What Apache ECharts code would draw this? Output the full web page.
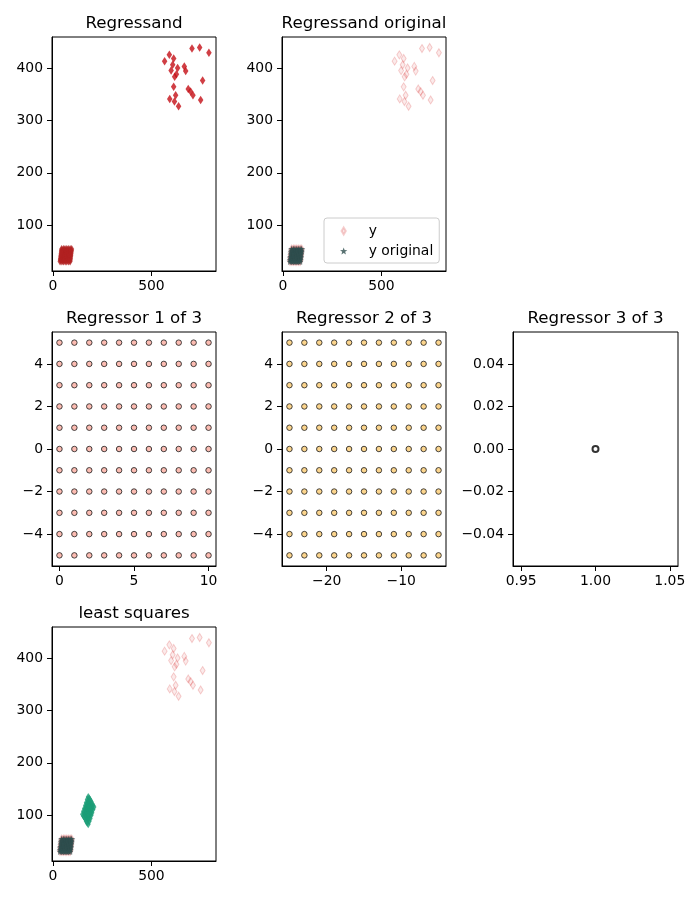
<!DOCTYPE html>
<html>
<head>
<meta charset="utf-8">
<script src="https://cdn.jsdelivr.net/npm/echarts@6/dist/echarts.min.js"></script>
<style>
  html, body { margin: 0; padding: 0; background: #fff; }
  #chart { width: 700px; height: 900px; }
</style>
</head>
<body>
<div id="chart"></div>
<script>
// regressand: scattered points up right
const outlierX = [706, 745, 792, 591, 567, 613, 608, 633, 600, 667, 674, 627, 618, 760, 613, 687, 699, 711, 623, 593, 750, 617, 638];
const outlierY = [437, 439, 429, 425, 413, 418, 406, 400, 395, 403, 394, 388, 383, 376, 364, 360, 355, 348, 348, 341, 339, 336, 327];

// the dense cluster bottom left (y original)
const clusterX = [
    44, 53, 61, 70, 78, 87, 95,
    43, 52, 60, 69, 77, 86, 94,
    42, 51, 59, 68, 76, 85, 93,
    41, 50, 58, 67, 75, 84, 92,
    40, 49, 57, 66, 74, 83, 91,
    39, 48, 56, 65, 73, 82, 90,
    38, 47, 55, 64, 72, 81, 89,
    37, 46, 54, 63, 71, 80, 88,
    36, 45, 53, 62, 70, 79, 87];
const clusterY = [
    55, 55, 55, 55, 55, 55, 55,
    52, 52, 52, 52, 52, 52, 52,
    49, 49, 49, 49, 49, 49, 49,
    46, 46, 46, 46, 46, 46, 46,
    43, 43, 43, 43, 43, 43, 43,
    40, 40, 40, 40, 40, 40, 40,
    37, 37, 37, 37, 37, 37, 37,
    34, 34, 34, 34, 34, 34, 34,
    31, 31, 31, 31, 31, 31, 31];

// least squares fit (green blob)
const fitX = [
    179, 184, 189, 194, 198, 203, 208,
    174, 179, 184, 189, 194, 198, 203,
    169, 174, 179, 184, 189, 194, 198,
    165, 169, 174, 179, 184, 189, 194,
    160, 165, 169, 174, 179, 184, 189,
    155, 160, 165, 169, 174, 179, 184,
    150, 155, 160, 165, 169, 174, 179];
const fitY = [
    135, 132, 129, 126, 122, 119, 116,
    130, 126, 123, 120, 117, 114, 111,
    124, 121, 118, 115, 111, 108, 105,
    119, 115, 112, 109, 106, 103, 100,
    113, 110, 107, 104, 100, 97, 94,
    108, 104, 101, 98, 95, 92, 89,
    102, 99, 96, 93, 89, 86, 83];

// regressor grids
const reg1X = [0, 1, 2, 3, 4, 5, 6, 7, 8, 9, 10];
const reg2X = [-25, -23, -21, -19, -17, -15, -13, -11, -9, -7, -5];
const regY = [-5, -4, -3, -2, -1, 0, 1, 2, 3, 4, 5];
const reg3Point = [1, 0];

// tick labels
const yTicks = [100, 200, 300, 400];
const xTicks = [0, 500];
const reg1XTicks = [0, 5, 10];
const reg2XTicks = [-20, -10];
const regYTicks = [-4, -2, 0, 2, 4];
const reg3XTicks = [0.95, 1.0, 1.05];
const reg3YTicks = [-0.04, -0.02, 0, 0.02, 0.04];

const titles = ['Regressand', 'Regressand original', 'Regressor 1 of 3', 'Regressor 2 of 3', 'Regressor 3 of 3', 'least squares'];

const zip = (xs, ys) => xs.map((x, i) => [x, ys[i]]);
const cross = (xs, ys) => { let out = []; xs.forEach(x => ys.forEach(y => out.push([x, y]))); return out; };

const thinDiamond = 'path://M0,-10L6,0L0,10L-6,0Z';
const star = 'path://M0,-10L2.35,-3.24L9.51,-3.09L3.8,1.24L5.88,8.09L0,4L-5.88,8.09L-3.8,1.24L-9.51,-3.09L-2.35,-3.24Z';
const pinkStyle = {color: 'rgba(214,39,40,0.12)', borderColor: 'rgba(214,39,40,0.28)', borderWidth: 1};

const font = 'DejaVu Sans';
const minus = v => String(v).replace('-', '\u2212');
const fixed2 = v => v.toFixed(2).replace('-', '\u2212');

// grid boxes: [left, top, width]
const boxes = [[52, 37, 164], [282, 37, 164], [52, 332, 164], [282, 332, 164], [513, 332, 165], [52, 627, 164]];

function xAxis(g, min, max, ticks, fmt) {
    return {
        type: 'value', gridIndex: g, min: min, max: max,
        axisLine: {show: true, onZero: false, lineStyle: {color: '#000', width: 1}},
        axisTick: {show: true, length: 5, customValues: ticks, lineStyle: {color: '#000'}},
        axisLabel: {color: '#000', fontFamily: font, fontSize: 13.9, margin: 8, customValues: ticks, formatter: fmt || minus},
        splitLine: {show: false}
    };
}
function yAxis(g, min, max, ticks, fmt) {
    return {
        type: 'value', gridIndex: g, min: min, max: max,
        axisLine: {show: true, onZero: false, lineStyle: {color: '#000', width: 1}},
        axisTick: {show: true, length: 5, customValues: ticks, lineStyle: {color: '#000'}},
        axisLabel: {color: '#000', fontFamily: font, fontSize: 13.9, margin: 9, customValues: ticks, formatter: fmt || minus},
        splitLine: {show: false}
    };
}

const chart = echarts.init(document.getElementById('chart'));

const option = {
    animation: false,
    backgroundColor: '#fff',
    title: titles.map((t, i) => ({
        text: t,
        left: boxes[i][0] + boxes[i][2] / 2,
        top: boxes[i][1] - 22,
        textAlign: 'center',
        padding: 0,
        textStyle: {fontFamily: font, fontSize: 16.7, fontWeight: 'normal', color: '#000'}
    })),
    legend: {
        data: ['y', 'y original'],
        orient: 'vertical',
        left: 324, top: 218,
        padding: [6, 6, 5, 16],
        itemWidth: 8, itemHeight: 7, itemGap: 6,
        borderColor: '#cccccc', borderWidth: 1, borderRadius: 3,
        backgroundColor: 'rgba(255,255,255,0.8)',
        textStyle: {fontFamily: font, fontSize: 13.9, color: '#000', padding: [0, 0, 0, 16], lineHeight: 14}
    },
    grid: boxes.map(b => ({left: b[0], top: b[1], width: b[2], height: 234, show: true, borderColor: '#000', borderWidth: 1})),
    xAxis: [
        xAxis(0, -5, 828, xTicks),
        xAxis(1, -5, 828, xTicks),
        xAxis(2, -0.5, 10.5, reg1XTicks),
        xAxis(3, -26, -4, reg2XTicks),
        xAxis(4, 0.9445, 1.0555, reg3XTicks, fixed2),
        xAxis(5, -5, 828, xTicks)
    ],
    yAxis: [
        yAxis(0, 13, 459, yTicks),
        yAxis(1, 13, 459, yTicks),
        yAxis(2, -5.5, 5.5, regYTicks),
        yAxis(3, -5.5, 5.5, regYTicks),
        yAxis(4, -0.055, 0.055, reg3YTicks, fixed2),
        yAxis(5, 13, 459, yTicks)
    ],
    series: [
        // Regressand
        {type: 'scatter', name: 'regressand', xAxisIndex: 0, yAxisIndex: 0, symbol: thinDiamond, symbolSize: [5, 8],
         itemStyle: {color: '#b22222'}, data: zip(clusterX, clusterY)},
        {type: 'scatter', name: 'regressand outliers', xAxisIndex: 0, yAxisIndex: 0, symbol: thinDiamond, symbolSize: [5.5, 8.5],
         itemStyle: {color: '#c40f17'}, data: zip(outlierX, outlierY)},
        // Regressand original
        {type: 'scatter', name: 'y', xAxisIndex: 1, yAxisIndex: 1, symbol: thinDiamond, symbolSize: [5, 8],
         itemStyle: pinkStyle, data: zip(clusterX, clusterY).concat(zip(outlierX, outlierY))},
        {type: 'scatter', name: 'y original', xAxisIndex: 1, yAxisIndex: 1, symbol: star, symbolSize: 7,
         itemStyle: {color: '#2f4f4f'}, data: zip(clusterX, clusterY)},
        // Regressors
        {type: 'scatter', name: 'regressor 1', xAxisIndex: 2, yAxisIndex: 2, symbol: 'circle', symbolSize: 5.5,
         itemStyle: {color: '#fbab9f', borderColor: '#1a1a1a', borderWidth: 1}, data: cross(reg1X, regY)},
        {type: 'scatter', name: 'regressor 2', xAxisIndex: 3, yAxisIndex: 3, symbol: 'circle', symbolSize: 5.5,
         itemStyle: {color: '#fbcb70', borderColor: '#1a1a1a', borderWidth: 1}, data: cross(reg2X, regY)},
        {type: 'scatter', name: 'regressor 3', xAxisIndex: 4, yAxisIndex: 4, symbol: 'circle', symbolSize: 6,
         itemStyle: {color: '#fff', borderColor: '#000', borderWidth: 2}, data: [reg3Point]},
        // least squares
        {type: 'scatter', name: 'y ls', xAxisIndex: 5, yAxisIndex: 5, symbol: thinDiamond, symbolSize: [5, 8],
         itemStyle: pinkStyle, data: zip(clusterX, clusterY).concat(zip(outlierX, outlierY))},
        {type: 'scatter', name: 'y original ls', xAxisIndex: 5, yAxisIndex: 5, symbol: star, symbolSize: 7,
         itemStyle: {color: '#2f4f4f'}, data: zip(clusterX, clusterY)},
        {type: 'scatter', name: 'least squares', xAxisIndex: 5, yAxisIndex: 5, symbol: thinDiamond, symbolSize: [5, 8],
         itemStyle: {color: '#1b9e77'}, data: zip(fitX, fitY)}
    ]
};

chart.setOption(option);
</script>
</body>
</html>
